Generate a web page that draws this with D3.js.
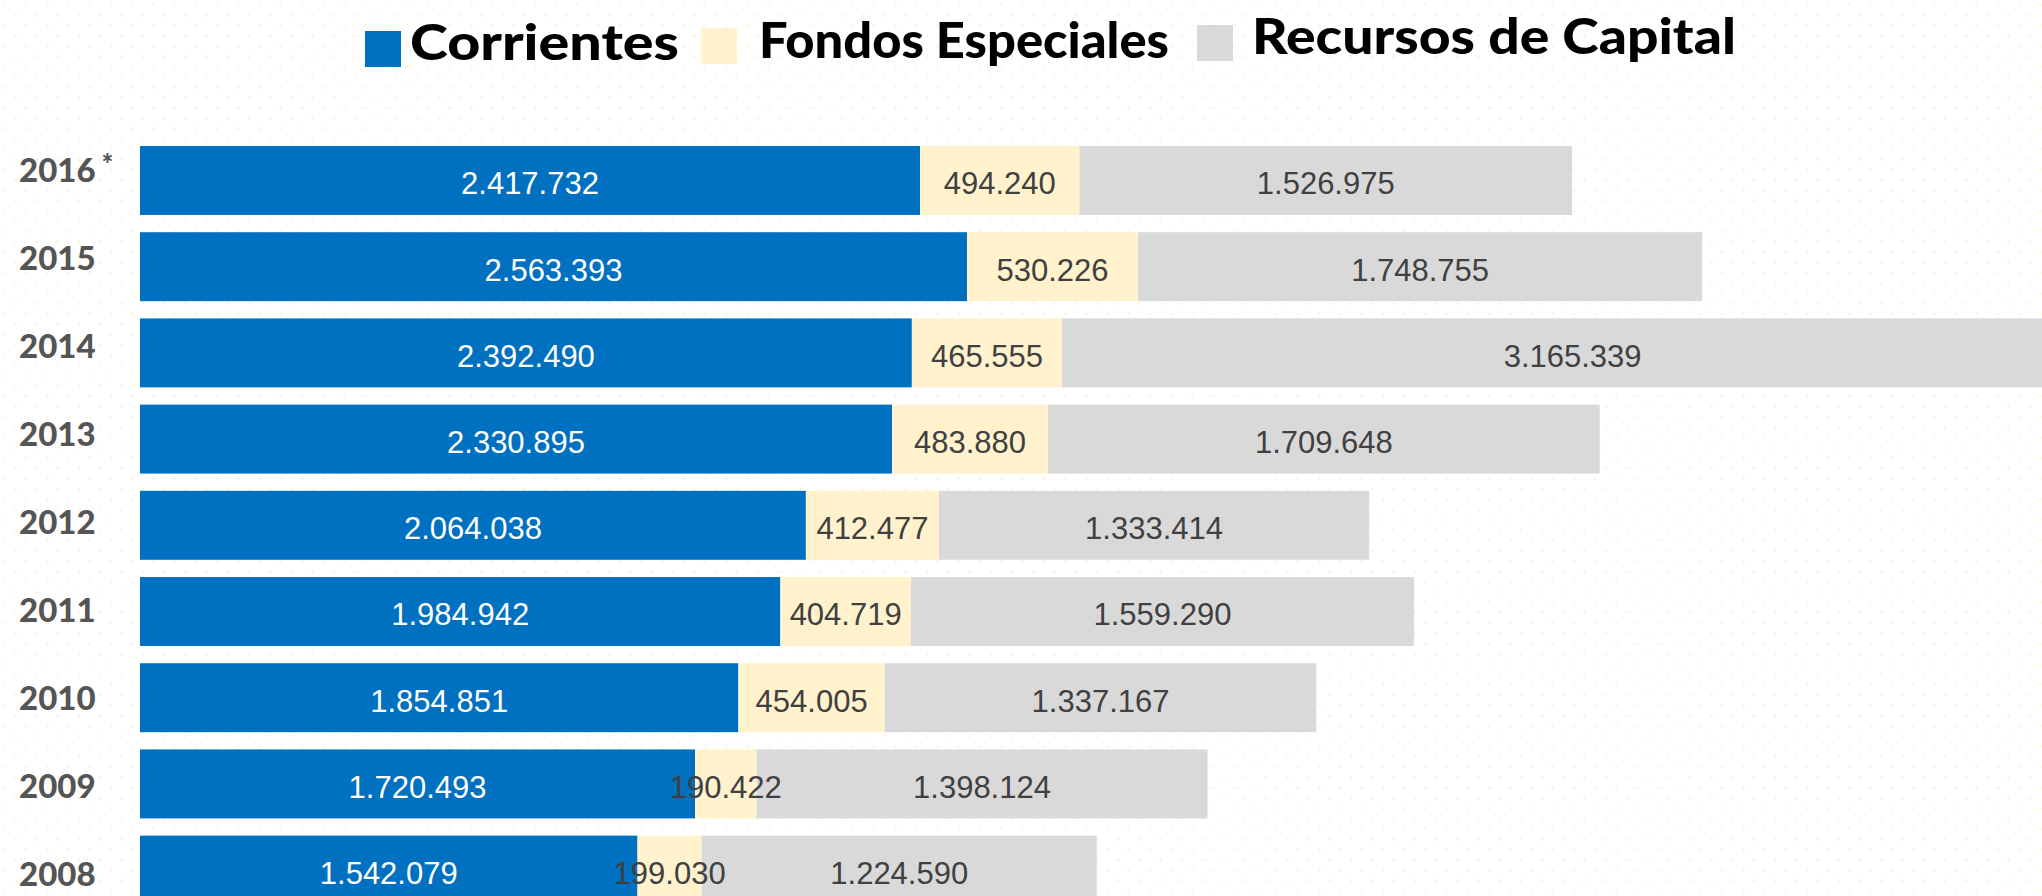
<!DOCTYPE html>
<html>
<head>
<meta charset="utf-8">
<script src="https://cdn.jsdelivr.net/npm/d3@7"></script>
<style>
  html, body { margin: 0; padding: 0; background: #fff; }
  svg { display: block; }
</style>
</head>
<body>
<svg id="chart" width="2042" height="896"></svg>
<script>
// ---- data ----
const years = ["2016", "2015", "2014", "2013", "2012", "2011", "2010", "2009", "2008"];
const yearMarks = ["*", "", "", "", "", "", "", "", ""];
const corrientes = [2417732, 2563393, 2392490, 2330895, 2064038, 1984942, 1854851, 1720493, 1542079];
const fondosEspeciales = [494240, 530226, 465555, 483880, 412477, 404719, 454005, 190422, 199030];
const recursosCapital = [1526975, 1748755, 3165339, 1709648, 1333414, 1559290, 1337167, 1398124, 1224590];
const seriesNames = ["Corrientes", "Fondos Especiales", "Recursos de Capital"];
const seriesColors = ["#0070C0", "#FFF2CC", "#D9D9D9"];
const labelColors = ["#ffffff", "#404040", "#404040"];

const svg = d3.select("#chart");
const W = 2042, H = 896;

// background dot pattern
const defs = svg.append("defs");
const pat = defs.append("pattern").attr("id", "dots").attr("patternUnits", "userSpaceOnUse")
  .attr("width", 21.2).attr("height", 20.6);
pat.append("circle").attr("cx", 5).attr("cy", 5).attr("r", 1.3).attr("fill", "#FFEDBF").attr("opacity", 0.75);
pat.append("circle").attr("cx", 15.6).attr("cy", 15.3).attr("r", 1.3).attr("fill", "#FFEDBF").attr("opacity", 0.75);
svg.append("rect").attr("width", W).attr("height", H).attr("fill", "#fff");
svg.append("rect").attr("width", W).attr("height", H).attr("fill", "url(#dots)");

// scales
const x = d3.scaleLinear().domain([0, 6000000]).range([140, 140 + 6000000 * (780 / 2417732)]);
const y = d3.scaleBand().domain(years).range([146, 904.6]).paddingInner(0.2).paddingOuter(0);
const yLab = d3.scalePoint().domain(years).range([170.5, 874]);

const rows = years.map((yr, i) => ({ year: yr, values: [corrientes[i], fondosEspeciales[i], recursosCapital[i]] }));
const stack = rows.map(r => {
  let acc = 0;
  return r.values.map((v, k) => { const s = { year: r.year, k, v, x0: acc, x1: acc + v }; acc += v; return s; });
});

const fmt = d3.formatLocale({ decimal: ",", thousands: ".", grouping: [3], currency: ["", ""] }).format(",");

const gBars = svg.append("g");
const segs = stack.flat();
gBars.selectAll("rect").data(segs).join("rect")
  .attr("x", d => x(d.x0))
  .attr("y", d => y(d.year))
  .attr("width", d => x(d.x1) - x(d.x0))
  .attr("height", y.bandwidth())
  .attr("fill", d => seriesColors[d.k]);

gBars.selectAll("text").data(segs).join("text")
  .attr("x", d => (x(d.x0) + x(d.x1)) / 2)
  .attr("y", d => y(d.year) + y.bandwidth() / 2)
  .attr("dy", "0.45em")
  .attr("text-anchor", "middle")
  .attr("font-family", "Liberation Sans, Arial, sans-serif")
  .attr("font-size", 31)
  .attr("fill", d => labelColors[d.k])
  .text(d => fmt(d.v));

// year labels
const gY = svg.append("g");
const yt = gY.selectAll("text").data(years).join("text")
  .attr("x", 19)
  .attr("y", d => yLab(d))
  .attr("dy", "0.36em")
  .attr("font-family", "Lato, 'Open Sans', sans-serif")
  .attr("font-weight", 900)
  .attr("font-size", 33)
  .attr("fill", "#555555")
  .text(d => d);
yt.append("tspan")
  .attr("dx", 6).attr("dy", "-0.3em")
  .attr("font-size", 28)
  .text((d, i) => yearMarks[i]);

// legend
const legendSq = [{ x: 365, y: 31 }, { x: 701, y: 28 }, { x: 1197, y: 25 }];
const legendTx = [{ x: 410, y: 60, w: 269 }, { x: 759, y: 58, w: 410 }, { x: 1252, y: 54, w: 484 }];
const gL = svg.append("g");
seriesNames.forEach((name, i) => {
  gL.append("rect").attr("x", legendSq[i].x).attr("y", legendSq[i].y)
    .attr("width", 36).attr("height", 36).attr("fill", seriesColors[i]);
  gL.append("text").attr("x", legendTx[i].x).attr("y", legendTx[i].y)
    .attr("font-family", "Lato, 'Open Sans', sans-serif")
    .attr("font-weight", 900)
    .attr("font-size", 50)
    .attr("fill", "#000")
    .attr("textLength", legendTx[i].w)
    .attr("lengthAdjust", "spacingAndGlyphs")
    .text(name);
});
</script>
</body>
</html>
